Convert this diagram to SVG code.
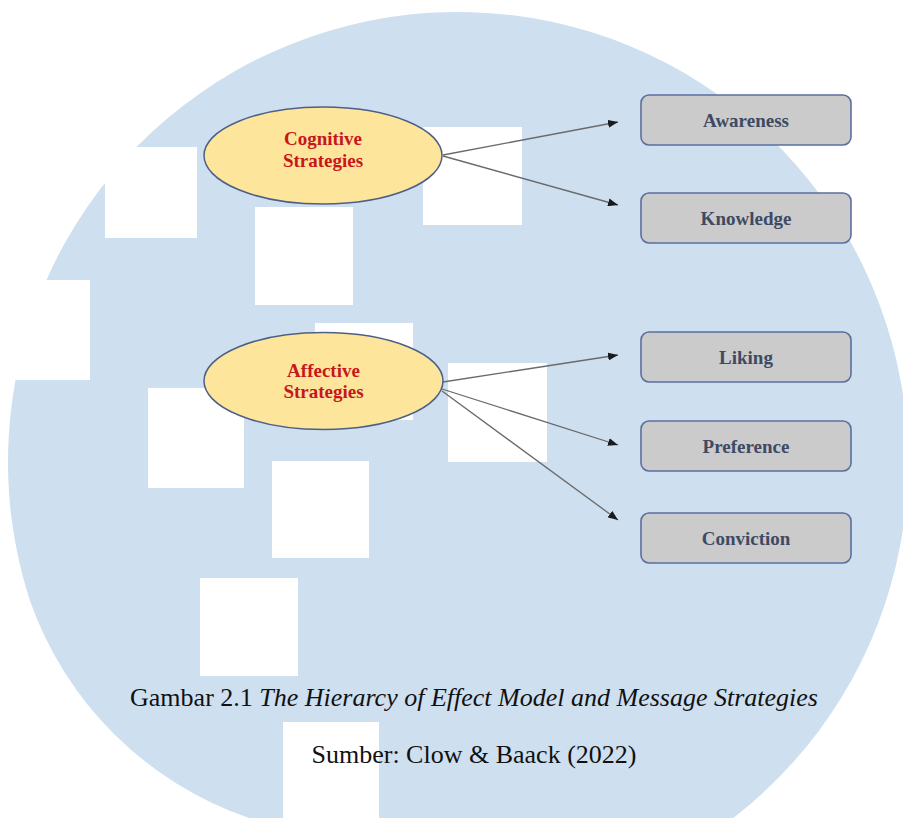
<svg xmlns="http://www.w3.org/2000/svg" width="903" height="818" viewBox="0 0 903 818">
  <style>
    .tile { fill: #ffffff; }
    .oval { fill: #fde59b; stroke: #4d5f86; stroke-width: 1.5; }
    .oval-text { font-family: "Liberation Serif", "Times New Roman", serif; font-weight: bold; font-size: 19px; fill: #c8161d; text-anchor: middle; }
    .box { fill: #cbcbcb; stroke: #5b6fa0; stroke-width: 1.6; }
    .box-text { font-family: "Liberation Serif", "Times New Roman", serif; font-weight: bold; font-size: 19px; fill: #3e4a63; text-anchor: middle; }
    .link { fill: none; stroke: #6a6a6a; stroke-width: 1.3; }
    .caption { font-family: "Liberation Serif", "Times New Roman", serif; font-size: 26px; fill: #111111; text-anchor: middle; }
  </style>
  <defs>
    <marker id="arrow" markerUnits="userSpaceOnUse" markerWidth="11" markerHeight="8" refX="10" refY="4" orient="auto">
      <path d="M0,0 L10,4 L0,8 z" fill="#1a1a1a"/>
    </marker>
  </defs>

  <rect width="903" height="818" fill="#ffffff"/>

  <!-- background emblem: rounded disc with square cut-outs -->
  <g id="backdrop">
    <path d="M29.7,600 A450,450 0 1 1 733.2,818 L249,818 A354,354 0 0 1 29.7,600 Z" fill="#cedff0"/>
    <rect class="tile" x="105" y="147" width="92" height="91"/>
    <rect class="tile" x="255" y="207" width="98" height="98"/>
    <rect class="tile" x="423" y="127" width="99" height="98"/>
    <rect class="tile" x="-10" y="280" width="100" height="100"/>
    <rect class="tile" x="315" y="323" width="98" height="97"/>
    <rect class="tile" x="448" y="363" width="99" height="99"/>
    <rect class="tile" x="148" y="388" width="96" height="100"/>
    <rect class="tile" x="272" y="461" width="97" height="97"/>
    <rect class="tile" x="200" y="578" width="98" height="98"/>
    <rect class="tile" x="283" y="722" width="96" height="100"/>
  </g>

  <!-- connectors -->
  <g id="connectors">
    <line class="link" x1="443" y1="155" x2="618" y2="122" marker-end="url(#arrow)"/>
    <line class="link" x1="443" y1="156" x2="618" y2="205" marker-end="url(#arrow)"/>
    <line class="link" x1="443" y1="382" x2="618" y2="355" marker-end="url(#arrow)"/>
    <line class="link" x1="442" y1="389" x2="618" y2="445" marker-end="url(#arrow)"/>
    <line class="link" x1="442" y1="391" x2="618" y2="520" marker-end="url(#arrow)"/>
  </g>

  <!-- strategy ovals -->
  <g id="cognitive">
    <ellipse class="oval" cx="323" cy="155.5" rx="119" ry="48.5"/>
    <text class="oval-text" x="323" y="145">Cognitive</text>
    <text class="oval-text" x="323" y="167">Strategies</text>
  </g>
  <g id="affective">
    <ellipse class="oval" cx="323.5" cy="381" rx="119.5" ry="48.5"/>
    <text class="oval-text" x="323.5" y="377">Affective</text>
    <text class="oval-text" x="323.5" y="398">Strategies</text>
  </g>

  <!-- effect stages -->
  <g id="awareness">
    <rect class="box" x="641" y="95" width="210" height="50" rx="8"/>
    <text class="box-text" x="746" y="127">Awareness</text>
  </g>
  <g id="knowledge">
    <rect class="box" x="641" y="193" width="210" height="50" rx="8"/>
    <text class="box-text" x="746" y="225">Knowledge</text>
  </g>
  <g id="liking">
    <rect class="box" x="641" y="332" width="210" height="50" rx="8"/>
    <text class="box-text" x="746" y="364">Liking</text>
  </g>
  <g id="preference">
    <rect class="box" x="641" y="421" width="210" height="50" rx="8"/>
    <text class="box-text" x="746" y="453">Preference</text>
  </g>
  <g id="conviction">
    <rect class="box" x="641" y="513" width="210" height="50" rx="8"/>
    <text class="box-text" x="746" y="545">Conviction</text>
  </g>

  <!-- caption -->
  <g id="caption">
    <text class="caption" x="474" y="706">Gambar 2.1 <tspan font-style="italic">The Hierarcy of Effect Model and Message Strategies</tspan></text>
    <text class="caption" x="474" y="763">Sumber: Clow &amp; Baack (2022)</text>
  </g>
</svg>
